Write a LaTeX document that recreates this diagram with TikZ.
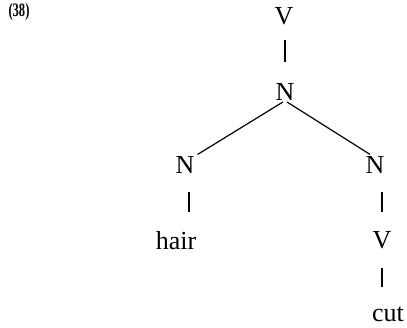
\documentclass[tikz,border=0pt]{standalone}
\usepackage{fontspec}
\setmainfont{Liberation Serif}
\usepackage{tikz}
\usetikzlibrary{calc}

\begin{document}
\begin{tikzpicture}[x=1pt,y=-1pt]
	\tikzset{cat/.style={inner sep=0pt,font=\fontsize{26}{30}\selectfont},
		branch/.style={line width=1.2pt}}
	\useasboundingbox (0,0) rectangle (407,327);
	\node[inner sep=0pt,font=\fontsize{19}{22}\selectfont\bfseries,xscale=0.66] (ex) at (19,12) {(38)};
	% tree
	\node[cat] (topV) at (284,16) {V};
	\node[cat] (midN) at (285,92) {N};
	\node[cat] (leftN) at (185,165) {N};
	\node[cat] (rightN) at (375,165) {N};
	\node[cat] (hair) at (176,241) {hair};
	\node[cat] (lowV) at (382,240) {V};
	\node[cat] (cut) at (388,314) {cut};
	\draw[branch,shorten <=15.4pt,shorten >=21.4pt] (topV.south -| midN) -- (midN.north);
	\draw[branch,shorten <=2.4pt,shorten >=3.5pt] (midN.south) -- (leftN.north east);
	\draw[branch,shorten <=2.4pt,shorten >=3.5pt] (midN.south) -- ([xshift=-2pt]rightN.north);
	\draw[branch,shorten <=18.4pt,shorten >=20.1pt] ([xshift=4pt]leftN.south) -- ([xshift=4pt]leftN.south |- hair.north);
	\draw[branch,shorten <=18.4pt,shorten >=19.4pt] (rightN.south -| lowV) -- (lowV.north);
	\draw[branch,shorten <=19.4pt,shorten >=19.5pt] (lowV.south) -- (lowV.south |- cut.north);
\end{tikzpicture}
\end{document}
